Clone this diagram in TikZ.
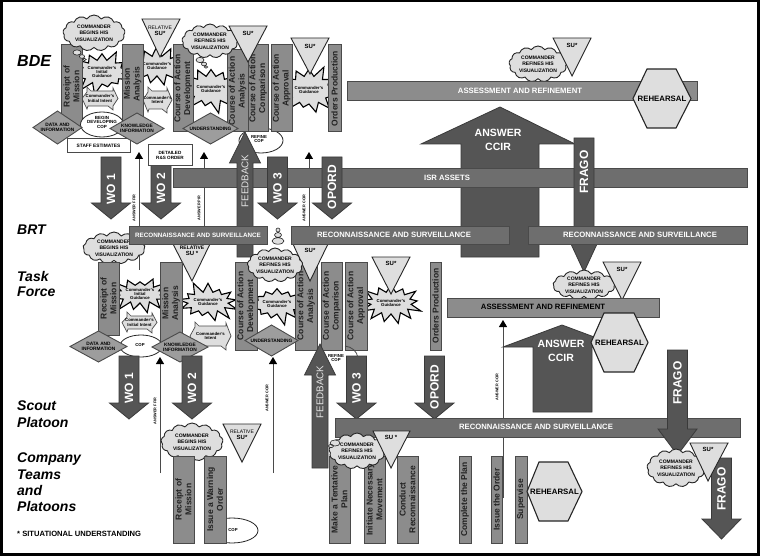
\documentclass[tikz,border=0pt]{standalone}
\usepackage{fontspec}
\setmainfont{Liberation Sans}
\usetikzlibrary{shapes.symbols,shapes.geometric,arrows.meta}
\definecolor{barfill}{HTML}{8C8C8C}
\definecolor{barline}{HTML}{4A4A4A}
\definecolor{bandfill}{HTML}{6E6E6E}
\definecolor{arrowfill}{HTML}{555555}
\definecolor{arrowline}{HTML}{3A3A3A}
\definecolor{lightfill}{HTML}{DEDEDE}
\definecolor{inktext}{HTML}{222222}
\newcommand{\fs}[1]{\fontsize{#1}{#1}\selectfont}
\tikzset{
  procbar/.style={draw=barline,fill=barfill,line width=1pt},
  barlabel/.style={rotate=90,align=center,text=inktext,font=\bfseries\fontsize{8.5}{9.8}\selectfont,inner sep=0pt},
  band/.style={draw=barline,fill=bandfill,line width=1pt},
  bandlight/.style={draw=barline,fill=barfill,line width=1pt},
  bandlabel/.style={text=white,font=\bfseries\fs{7.7},inner sep=0pt},
  fatarrow/.style={draw=arrowline,fill=arrowfill,line width=.8pt},
  fatlabel/.style={rotate=90,text=white,font=\bfseries\fs{12},inner sep=0pt},
  lightshape/.style={draw=black!85,fill=lightfill,line width=.9pt},
  smalltext/.style={align=center,text=black,font=\bfseries\fs{5},inner sep=0pt},
  diashape/.style={draw=barline,fill=barfill!85,line width=.9pt},
  cld/.style={cloud,cloud puffs=13,cloud puff arc=115,cloud ignores aspect,draw=black!85,fill=lightfill,line width=.9pt,inner sep=0pt,align=center,font=\bfseries\fs{5},text=black},
  burstshape/.style={starburst,draw=black,fill=lightfill,line width=1.1pt,inner sep=0pt,align=center,font=\bfseries\fs{4.3},text=black},
  whiteoval/.style={draw=black!85,fill=white,line width=.8pt},
  thinline/.style={draw=barline,line width=.9pt},
  thinarrow/.style={thinline,-{Triangle[length=7pt,width=8pt,black]}},
  answerlabel/.style={rotate=90,font=\bfseries\fs{3.8},text=black,inner sep=0pt},
  levellabel/.style={anchor=west,align=left,font=\bfseries\itshape\fs{14},text=black,inner sep=0pt},
  hexlabel/.style={font=\bfseries\fs{7.8},text=black,inner sep=0pt}
}
\newcommand{\pbar}[6]{\draw[procbar] (#2,#3) rectangle node[barlabel] (#1) {#6} (#4,#5);}
\newcommand{\fatdown}[7]{\draw[fatarrow] ({#2-10},#3) -- ({#2+10},#3) -- ({#2+10},#4) -- ({#2+19.5},#4) -- (#2,#5) -- ({#2-19.5},#4) -- ({#2-10},#4) -- cycle;
  \node[fatlabel] (#1) at (#2,#6) {#7};}
\newcommand{\fatup}[7]{\draw[fatarrow] ({#2-8},#3) -- ({#2+8},#3) -- ({#2+8},#4) -- ({#2+15.5},#4) -- (#2,#5) -- ({#2-15.5},#4) -- ({#2-8},#4) -- cycle;
  \node[fatlabel,font=\fs{9.8},text=white!90!black] (#1) at (#2,#6) {#7};}
\newcommand{\tria}[8]{\draw[lightshape] (#2,#4) -- (#3,#4) -- (#5,#6) -- cycle;
  \node[smalltext,font=\bfseries\fs{6}] (#1) at (#5,#7) {#8};}
\newcommand{\dia}[6]{\draw[diashape] (#2,{(#4+#5)/2}) -- ({(#2+#3)/2},#4) -- (#3,{(#4+#5)/2}) -- ({(#2+#3)/2},#5) -- cycle;
  \node[smalltext,font=\bfseries\fs{4.8}] (#1) at ({(#2+#3)/2},{(#4+#5)/2}) {#6};}
\newcommand{\hexa}[8]{\draw[lightshape,line width=1.1pt] (#2,{(#6+#7)/2}) -- (#4,#6) -- (#5,#6) -- (#3,{(#6+#7)/2}) -- (#5,#7) -- (#4,#7) -- cycle;
  \node[hexlabel] (#1) at ({(#2+#3)/2},{(#6+#7)/2}) {#8};}
\newcommand{\spiky}[6]{\draw[lightshape,line width=.7pt,draw=black!70]
  (#2,{(#4+#5)/2}) -- ({#2+5},{#4+5}) -- ({#2+5},#4) -- ({#2+9},{#4+4}) -- ({(#2+#3)/2},{#4+4}) -- ({#3-5},{#4+4}) -- ({#3-5},{#4+1}) -- (#3,{(#4+#5)/2}) -- ({#3-5},{#5-4}) -- ({#3-5},#5) -- ({#3-10},{#5-4}) -- ({#2+6},{#5-4}) -- ({#2+5},{#5-1}) -- cycle;
  \node[smalltext,font=\bfseries\fs{4.3}] (#1) at ({(#2+#3)/2},{(#4+#5)/2}) {#6};}
\newcommand{\burst}[7]{\node[burstshape,starburst points=13,starburst point height=12pt,random starburst=#6,minimum width=#4pt,minimum height=#5pt] (#1) at (#2,#3) {#7};}
\newcommand{\thoughts}[6]{\draw[lightshape,line width=.6pt] (#1,#2) ellipse (4 and 2.6) (#3,#4) ellipse (2.6 and 1.8) (#5,#6) ellipse (1.8 and 1.2);}
\newcommand{\cldnode}[6]{\node[cld,minimum width=#4pt,minimum height=#5pt] (#1) at (#2,#3) {#6};}
\newcommand{\thinup}[4]{\coordinate (#1s) at (#2,#3); \coordinate (#1t) at (#2,#4); \draw[thinarrow] (#1s) -- (#1t);}
\newcommand{\thinplain}[4]{\coordinate (#1s) at (#2,#3); \coordinate (#1t) at (#2,#4); \draw[thinline] (#1s) -- (#1t);}
\begin{document}
\begin{tikzpicture}[x=1pt,y=-1pt]
\useasboundingbox (0,0) rectangle (760,556);
\fill[black] (0,0) rectangle (760,556);
\fill[white] (2.5,2.5) rectangle (757,553);

% ---------- level labels
\node[levellabel,font=\bfseries\itshape\fs{16}] (lblbde) at (17,61) {BDE};
\node[levellabel] (lblbrt) at (17,230) {BRT};
\node[levellabel] (lbltask) at (17,276) {Task};
\node[levellabel] (lblforce) at (17,292) {Force};
\node[levellabel] (lblscout) at (17,406) {Scout};
\node[levellabel] (lblplatoon) at (17,422) {Platoon};
\node[levellabel] (lblcomp) at (17,459) {Company};
\node[levellabel] (lblteams) at (17,475) {Teams};
\node[levellabel] (lbland) at (17,490) {and};
\node[levellabel] (lblplatoons) at (17,506) {Platoons};
\node[anchor=west,font=\bfseries\fs{7.6},text=black,inner sep=0pt] (lblsu) at (17,534) {* SITUATIONAL UNDERSTANDING};

% ---------- thin answer arrows, upper and lower
\thinup{ffirA}{139}{226}{152}
\node[answerlabel] (ffirAl) at (134,208) {ANSWER FFIR};
\thinup{pirA}{204}{226}{152}
\node[answerlabel] (pirAl) at (199,208) {ANSWER PIR};
\thinup{ccirA}{309}{226}{152}
\node[answerlabel] (ccirAl) at (304,208) {ANSWER CCIR};
\thinplain{ffirAb}{139}{244}{270}
\thinup{ffirB}{160}{473}{357}
\node[answerlabel] (ffirBl) at (155,411) {ANSWER FFIR};
\thinup{ccirB}{273}{473}{357}
\node[answerlabel] (ccirBl) at (267,398) {ANSWER CCIR};
\thinup{ccirC}{503}{498}{320}
\node[answerlabel] (ccirCl) at (497,387) {ANSWER CCIR};

% ---------- big arrows between BDE and BRT
\draw[fatarrow] (461,257) -- (461,144) -- (421,144) -- (500,107) -- (575,144) -- (539,144) -- (539,257) -- cycle;
\node[align=center,text=white,font=\bfseries\fs{10.5},inner sep=0pt] (ccirtop) at (498,140) {ANSWER\\[3pt]CCIR};
\draw[band] (173,169) rectangle (747,188);
\node[bandlabel] (isr) at (447,178) {ISR ASSETS};
\draw[whiteoval] (261,140.5) ellipse (22 and 12.5);
\node[smalltext,font=\bfseries\fs{4.3}] (refinea) at (259,139) {REFINE\\COP};
\fatdown{woOne}{111}{157}{203}{219}{189}{WO 1}
\fatdown{woTwo}{161}{160}{203}{219}{188}{WO 2}
\draw[draw=barline,fill=white,line width=1pt] (148,145) rectangle node[smalltext,font=\bfseries\fs{4.6}] (detail) {DETAILED\\[1pt]R\&S ORDER} (192,166);
\fatup{fbA}{245}{257}{163}{132}{181}{FEEDBACK}
\fatdown{woThree}{277.5}{157}{203}{219}{188}{WO 3}
\fatdown{opordA}{332}{157}{203}{219}{187}{OPORD}
\fatdown{fragoA}{584}{138}{230}{272}{172}{FRAGO}

% ---------- BDE cluster
\burst{bgA}{102}{72}{38}{48}{12}{Commander's\\Initial\\Guidance}
\burst{bgB}{157}{66}{32}{44}{37}{Commander's\\Guidance}
\burst{bgC}{211}{89}{36}{50}{58}{Commander's\\Guidance}
\burst{bgD}{309}{90}{38}{52}{71}{Commander's\\Guidance}
\spiky{biA}{82}{118}{87}{110}{Commander's\\Initial Intent}
\spiky{biB}{143}{172}{87}{113}{Commander's\\Intent}
\pbar{rmA}{61}{45}{82}{128}{Receipt of\\Mission}
\pbar{maA}{122}{45}{143}{123}{Mission\\Analysis}
\pbar{coaDA}{173}{45}{193}{132}{Course of Action\\Development}
\pbar{coaAA}{227}{50}{248}{132}{Course of Action\\Analysis}
\pbar{coaCA}{248}{45}{268}{132}{Course of Action\\Comparison}
\pbar{coaPA}{271}{45}{292}{132}{Course of Action\\Approval}
\pbar{opA}{328}{45}{341}{132}{Orders Production}
\draw[draw=barline,fill=white,line width=1pt] (67,139) rectangle node[smalltext,font=\bfseries\fs{4.8}] (staff) {STAFF ESTIMATES} (130,153);
\draw[whiteoval] (102,124.5) ellipse (21.5 and 12.5);
\node[smalltext,font=\bfseries\fs{4.5}] (copA) at (102,122) {BEGIN\\DEVELOPING\\COP};
\dia{dataA}{33}{82}{111}{144}{DATA AND\\INFORMATION}
\dia{knowA}{110}{164}{113}{144}{KNOWLEDGE\\INFORMATION}
\dia{undA}{183}{238}{113}{144}{UNDERSTANDING}
\thoughts{77}{52.5}{82}{56.5}{84.5}{59.5}
\cldnode{cloudA}{94}{33}{62}{36}{COMMANDER\\[1.5pt]BEGINS HIS\\[1.5pt]VISUALIZATION}
\tria{triA}{142}{180}{19}{160}{57}{31}{\mdseries\fs{5}RELATIVE\\SU*}
\thoughts{200}{60}{204}{64}{206}{67}
\cldnode{cloudB}{210}{41}{56}{34}{COMMANDER\\[1.5pt]REFINES HIS\\[1.5pt]VISUALIZATION}
\tria{triB}{229}{267}{26}{248}{62}{33}{SU*}
\tria{triC}{291}{329}{38}{310}{74}{46}{SU*}

% ---------- BDE top right
\cldnode{cloudC}{538}{64}{58}{36}{COMMANDER\\[1.5pt]REFINES HIS\\[1.5pt]VISUALIZATION}
\tria{triD}{553}{591}{38}{572}{76}{45}{SU*}
\draw[bandlight] (347,82) rectangle (697,101);
\node[bandlabel,text=white] (assA) at (520,91) {ASSESSMENT AND REFINEMENT};
\hexa{rehA}{633}{691}{647}{676}{69}{128}{REHEARSAL}

% ---------- BRT-level thought bubble and TF shapes behind bands
\draw[lightshape,line width=.6pt] (278,230) ellipse (2 and 2) (278,235) ellipse (3.5 and 2.4) (278,241) ellipse (6 and 3.2);
\cldnode{cloudD}{114}{248}{62}{32}{COMMANDER\\[1.5pt]BEGINS HIS\\[1.5pt]VISUALIZATION}
\tria{triE}{173}{210}{244}{192}{281}{251}{\fs{5}RELATIVE\\SU *}
\burst{tgA}{140}{294}{32}{42}{23}{Commander's\\Initial\\Guidance}
\burst{tgB}{208}{302}{40}{44}{44}{Commander's\\Guidance}
\burst{tgC}{277}{304}{32}{44}{65}{Commander's\\Guidance}
\burst{tgD}{391}{303}{40}{46}{81}{Commander's\\Guidance}
\spiky{tiA}{122}{157}{312}{333}{Commander's\\Initial Intent}
\spiky{tiB}{190}{231}{322}{350}{Commander's\\Intent}
\pbar{rmB}{98}{262}{119}{335}{Receipt of\\Mission}
\pbar{maB}{160}{262}{182}{345}{Mission\\Analysis}
\pbar{coaDB}{235}{262}{257}{350}{Course of Action\\Development}
\pbar{coaAB}{295}{262}{317}{350}{Course of Action\\Analysis}
\pbar{coaCB}{321}{262}{342}{350}{Course of Action\\Comparison}
\pbar{coaPB}{345}{262}{367}{350}{Course of Action\\Approval}
\pbar{opB}{430}{262}{441}{350}{Orders Production}
\tria{triF}{293}{328}{244}{310}{281}{250}{SU*}
\cldnode{cloudE}{275}{265}{55}{34}{COMMANDER\\[1.5pt]REFINES HIS\\[1.5pt]VISUALIZATION}
\tria{triG}{372}{410}{257}{391}{294}{263}{SU*}
\draw[whiteoval] (141,346) ellipse (21 and 11);
\node[smalltext,font=\bfseries\fs{4.3}] (copB) at (140,345) {COP};
\dia{dataB}{70}{127}{331}{362}{DATA AND\\INFORMATION}
\dia{knowB}{152}{208}{332}{362}{KNOWLEDGE\\INFORMATION}
\dia{undB}{245}{298}{325}{356}{UNDERSTANDING}

% ---------- R&S bands at BRT level
\draw[band] (129,226) rectangle (267,244);
\node[bandlabel,font=\bfseries\fs{6.3}] (rsA) at (198,235) {RECONNAISSANCE AND SURVEILLANCE};
\draw[band] (291,226) rectangle (509,244);
\node[bandlabel] (rsB) at (394,235) {RECONNAISSANCE AND SURVEILLANCE};
\draw[band] (528,226) rectangle (747,244);
\node[bandlabel] (rsC) at (640,235) {RECONNAISSANCE AND SURVEILLANCE};

% ---------- TF right part
\cldnode{cloudF}{584}{285}{62}{30}{COMMANDER\\[1.5pt]REFINES HIS\\[1.5pt]VISUALIZATION}
\tria{triH}{603}{641}{262}{622}{300}{269}{SU*}
\draw[bandlight] (447,298) rectangle (659,317);
\node[bandlabel,text=black] (assB) at (543,307) {ASSESSMENT AND REFINEMENT};
\draw[fatarrow] (533,412) -- (533,347) -- (503,347) -- (562,325) -- (621,347) -- (592,347) -- (592,412) -- cycle;
\node[align=center,text=white,font=\bfseries\fs{10.5},inner sep=0pt] (ccirlow) at (561,351) {ANSWER\\[3pt]CCIR};
\hexa{rehB}{591}{648}{604}{634}{313}{372}{REHEARSAL}
\draw[barline,line width=.8pt] (345,346) .. controls (352,347) and (357,351) .. (358,358);
\node[smalltext,font=\bfseries\fs{4.3}] (refineb) at (336,358) {REFINE\\COP};
\fatup{fbB}{320}{468}{375}{344}{392}{FEEDBACK}
\fatdown{woOneB}{129}{356}{403}{419}{388}{WO 1}
\fatdown{woTwoB}{192}{356}{403}{419}{388}{WO 2}
\fatdown{woThreeB}{356.5}{356}{403}{419}{388}{WO 3}
\fatdown{opordB}{434.5}{356}{403}{419}{387}{OPORD}

% ---------- scout platoon band
\draw[band] (335,418) rectangle (740,437);
\node[bandlabel] (rsD) at (536,427) {RECONNAISSANCE AND SURVEILLANCE};
\fatdown{fragoB}{677.5}{350}{429}{455}{383}{FRAGO}

% ---------- company level
\draw[whiteoval] (232,530.5) ellipse (26 and 12.5);
\node[smalltext,font=\bfseries\fs{4.3}] (copC) at (233,530) {COP};
\cldnode{cloudG}{192}{442}{62}{38}{COMMANDER\\[1.5pt]BEGINS HIS\\[1.5pt]VISUALIZATION}
\tria{triI}{223}{261}{424}{242}{462}{435}{\mdseries\fs{5}RELATIVE\\SU*}
\pbar{rmC}{173}{456}{194}{543}{Receipt of\\Mission}
\pbar{wo}{204}{456}{226}{543}{Issue a Warning\\Order}
\pbar{tent}{329}{456}{350}{543}{Make a Tentative\\Plan}
\pbar{init}{364}{456}{385}{543}{Initiate Necessary\\Movement}
\pbar{recon}{397}{456}{418}{543}{Conduct\\Reconnaissance}
\pbar{compl}{459}{456}{471}{543}{Complete the Plan}
\pbar{issue}{491}{456}{502}{543}{Issue the Order}
\pbar{superv}{515}{456}{527}{543}{Supervise}
\cldnode{cloudH}{357}{451}{56}{36}{COMMANDER\\[1.5pt]REFINES HIS\\[1.5pt]VISUALIZATION}
\draw[lightshape,line width=.6pt] (335,443) ellipse (5 and 3) (331,446) ellipse (2.5 and 1.6);
\tria{triJ}{373}{410}{431}{391}{468}{437}{SU *}
\hexa{rehC}{527}{582}{539}{568}{462}{521}{REHEARSAL}
\fatdown{fragoC}{721.5}{458}{519}{539}{489}{FRAGO}
\cldnode{cloudI}{676}{468}{58}{38}{COMMANDER\\[1.5pt]REFINES HIS\\[1.5pt]VISUALIZATION}
\tria{triK}{690}{728}{443}{708}{481}{449}{SU*}
\end{tikzpicture}
\end{document}
